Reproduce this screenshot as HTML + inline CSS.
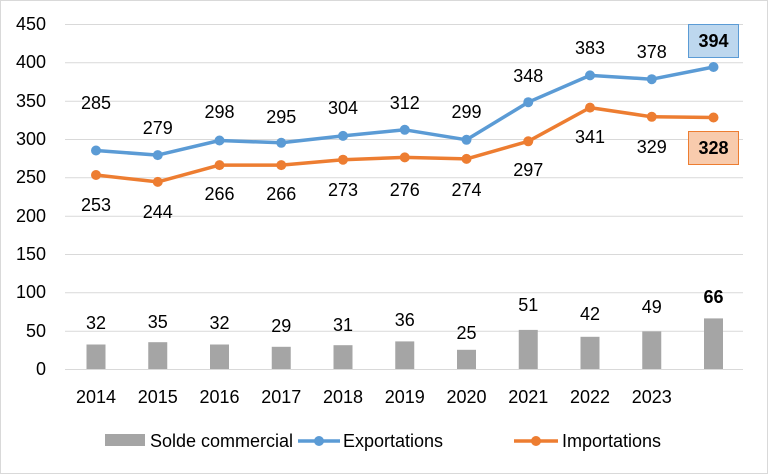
<!DOCTYPE html>
<html><head><meta charset="utf-8"><style>
body{margin:0;background:#fff}
svg{display:block;font-family:"Liberation Sans",sans-serif}
</style></head><body>
<svg width="768" height="474" viewBox="0 0 768 474">
<rect x="0.5" y="0.5" width="767" height="473" fill="#fff" stroke="#d9d9d9"/>
<g stroke="#d9d9d9" stroke-width="1">
<line x1="65" x2="743" y1="24.5" y2="24.5"/><line x1="65" x2="743" y1="62.8" y2="62.8"/>
<line x1="65" x2="743" y1="101.2" y2="101.2"/><line x1="65" x2="743" y1="139.5" y2="139.5"/>
<line x1="65" x2="743" y1="177.8" y2="177.8"/><line x1="65" x2="743" y1="216.2" y2="216.2"/>
<line x1="65" x2="743" y1="254.5" y2="254.5"/><line x1="65" x2="743" y1="292.8" y2="292.8"/>
<line x1="65" x2="743" y1="331.2" y2="331.2"/><line x1="65" x2="743" y1="369.5" y2="369.5"/>
</g>
<g font-size="18" fill="#000" text-anchor="end" dominant-baseline="central">
<text x="46" y="24">450</text><text x="46" y="62">400</text><text x="46" y="101">350</text>
<text x="46" y="139">300</text><text x="46" y="177">250</text><text x="46" y="216">200</text>
<text x="46" y="254">150</text><text x="46" y="292">100</text><text x="46" y="331">50</text><text x="46" y="369">0</text>
</g>
<g font-size="18" text-anchor="middle" dominant-baseline="central">
<text x="96" y="397">2014</text><text x="157.75" y="397">2015</text><text x="219.5" y="397">2016</text>
<text x="281.25" y="397">2017</text><text x="343" y="397">2018</text><text x="404.75" y="397">2019</text>
<text x="466.5" y="397">2020</text><text x="528.25" y="397">2021</text><text x="590" y="397">2022</text>
<text x="651.75" y="397">2023</text>
</g>
<g fill="#a5a5a5">
<rect x="86.5" y="344.5" width="19" height="24.5"/><rect x="148.25" y="342.2" width="19" height="26.8"/>
<rect x="210" y="344.5" width="19" height="24.5"/><rect x="271.75" y="346.8" width="19" height="22.2"/>
<rect x="333.5" y="345.2" width="19" height="23.8"/><rect x="395.25" y="341.4" width="19" height="27.6"/>
<rect x="457" y="349.8" width="19" height="19.2"/><rect x="518.75" y="329.9" width="19" height="39.1"/>
<rect x="580.5" y="336.8" width="19" height="32.2"/><rect x="642.25" y="331.4" width="19" height="37.6"/>
<rect x="704" y="318.4" width="19" height="50.6"/>
</g>
<polyline fill="none" stroke="#5b9bd5" stroke-width="3.5" stroke-linejoin="round" points="96,150.5 157.75,155.1 219.5,140.5 281.25,142.8 343,135.9 404.75,129.8 466.5,139.8 528.25,102.2 590,75.4 651.75,79.2 713.5,67"/>
<g fill="#5b9bd5"><circle cx="96" cy="150.5" r="5"/><circle cx="157.75" cy="155.1" r="5"/><circle cx="219.5" cy="140.5" r="5"/><circle cx="281.25" cy="142.8" r="5"/><circle cx="343" cy="135.9" r="5"/><circle cx="404.75" cy="129.8" r="5"/><circle cx="466.5" cy="139.8" r="5"/><circle cx="528.25" cy="102.2" r="5"/><circle cx="590" cy="75.4" r="5"/><circle cx="651.75" cy="79.2" r="5"/><circle cx="713.5" cy="67" r="5"/></g>
<polyline fill="none" stroke="#ed7d31" stroke-width="3.5" stroke-linejoin="round" points="96,175 157.75,181.9 219.5,165.1 281.25,165.1 343,159.7 404.75,157.4 466.5,158.9 528.25,141.3 590,107.6 651.75,116.8 713.5,117.5"/>
<g fill="#ed7d31"><circle cx="96" cy="175" r="5"/><circle cx="157.75" cy="181.9" r="5"/><circle cx="219.5" cy="165.1" r="5"/><circle cx="281.25" cy="165.1" r="5"/><circle cx="343" cy="159.7" r="5"/><circle cx="404.75" cy="157.4" r="5"/><circle cx="466.5" cy="158.9" r="5"/><circle cx="528.25" cy="141.3" r="5"/><circle cx="590" cy="107.6" r="5"/><circle cx="651.75" cy="116.8" r="5"/><circle cx="713.5" cy="117.5" r="5"/></g>
<rect x="688.5" y="24.5" width="50" height="33" fill="#bdd7ee" stroke="#5b9bd5"/>
<rect x="688.5" y="131.5" width="50" height="33" fill="#f8cbad" stroke="#ed7d31"/>
<g font-size="18" text-anchor="middle" dominant-baseline="central">
<text x="96" y="103">285</text><text x="157.75" y="128">279</text><text x="219.5" y="112">298</text>
<text x="281.25" y="117">295</text><text x="343" y="108">304</text><text x="404.75" y="103">312</text>
<text x="466.5" y="112">299</text><text x="528.25" y="76">348</text><text x="590" y="48">383</text>
<text x="651.75" y="52">378</text><text x="713.5" y="41" font-weight="bold">394</text>
<text x="96" y="205">253</text><text x="157.75" y="212">244</text><text x="219.5" y="194">266</text>
<text x="281.25" y="194">266</text><text x="343" y="190">273</text><text x="404.75" y="190">276</text>
<text x="466.5" y="190">274</text><text x="528.25" y="170">297</text><text x="590" y="137">341</text>
<text x="651.75" y="147">329</text><text x="713.5" y="148" font-weight="bold">328</text>
<text x="96" y="323">32</text><text x="157.75" y="322">35</text><text x="219.5" y="323">32</text>
<text x="281.25" y="326">29</text><text x="343" y="325">31</text><text x="404.75" y="320">36</text>
<text x="466.5" y="333">25</text><text x="528.25" y="305">51</text><text x="590" y="314">42</text>
<text x="651.75" y="307">49</text><text x="713.5" y="297" font-weight="bold">66</text>
</g>
<rect x="105" y="434" width="40" height="12" fill="#a5a5a5"/>
<line x1="298" x2="340" y1="441" y2="441" stroke="#5b9bd5" stroke-width="3.5"/><circle cx="319" cy="441" r="5" fill="#5b9bd5"/>
<line x1="514" x2="558" y1="441" y2="441" stroke="#ed7d31" stroke-width="3.5"/><circle cx="536" cy="441" r="5" fill="#ed7d31"/>
<g font-size="18" dominant-baseline="central">
<text x="150" y="441">Solde commercial</text><text x="343" y="441">Exportations</text><text x="562" y="441">Importations</text>
</g>
</svg>
</body></html>
